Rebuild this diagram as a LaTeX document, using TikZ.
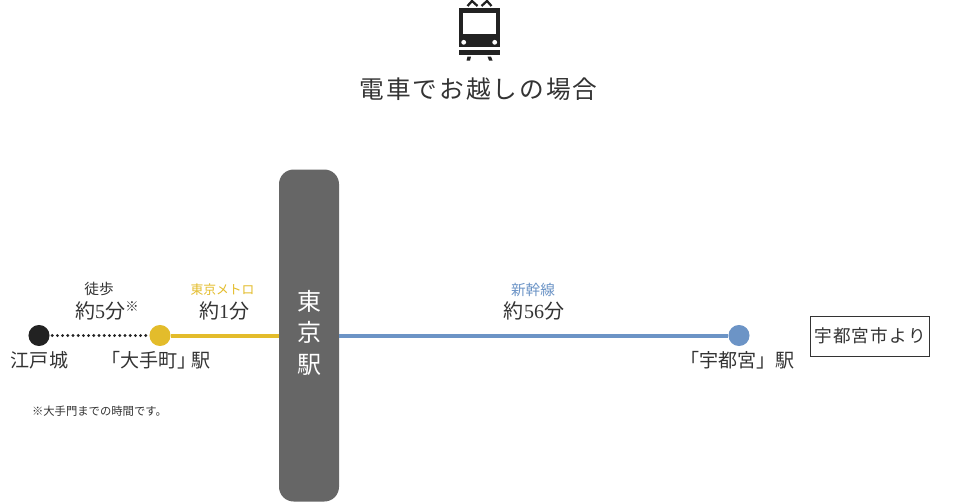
\documentclass[tikz,border=0pt]{standalone}
\usepackage{fontspec}
\setmainfont{Noto Sans CJK JP}
\newfontfamily\numfont{Liberation Serif}
\usetikzlibrary{positioning}
\definecolor{inkgray}{HTML}{333333}
\definecolor{stationgray}{HTML}{666666}
\definecolor{metrogold}{HTML}{E3BC2B}
\definecolor{shinblue}{HTML}{6C94C6}
\definecolor{iconblack}{HTML}{222222}
\newcommand{\spaced}[1]{\addfontfeature{LetterSpace=#1}}

\begin{document}
\begin{tikzpicture}[x=0.75pt, y=-0.75pt, inner sep=0pt, outer sep=0pt]
  \tikzset{every node/.style={text=inkgray},
    stop/.style={circle, minimum size=15.8pt},
    route/.style={line width=3pt},
    big/.style={font=\fontsize{15}{15}\selectfont},
    mid/.style={font=\fontsize{11}{11}\selectfont},
    place/.style={font=\fontsize{14.3}{14.3}\selectfont}}
  \useasboundingbox (0,0) rectangle (960,501);

  % train icon
  \fill[iconblack] (458.5,8) rectangle (500,47);
  \fill[white] (462.5,12.5) rectangle (496,33.5);
  \fill[white] (463.7,42.3) circle (2.4) (494.7,42.3) circle (2.4);
  \fill[iconblack] (459,49.5) rectangle (500,54.5);
  \fill[iconblack] (467.5,56.5) -- (471,56.5) -- (470,60.5) -- (466.5,60.5) -- cycle;
  \fill[iconblack] (487.5,56.5) -- (491,56.5) -- (492.5,60.5) -- (489,60.5) -- cycle;
  \draw[iconblack, line width=1.7pt] (467.5,6) -- (472,1) -- (477.5,6) (481.5,6) -- (487,1) -- (491.5,6);

  \node[font=\fontsize{18.5}{18.5}\selectfont\spaced{8}] (title) at (478.5,89.5) {電車でお越しの場合};

  % station and stops
  \node[fill=stationgray, rounded corners=11pt, minimum width=45pt, minimum height=249pt] (tokyo) at (309,335.5) {};
  \node[text=white, align=center, font=\fontsize{18}{23.6}\selectfont] (tokyolabel) at (309,332.5) {東\\京\\駅};
  \node[stop, fill=iconblack] (edo) at (39,335.5) {};
  \node[stop, fill=metrogold] (ote) at (160,335.5) {};
  \node[stop, fill=shinblue] (utsu) at (739,335.5) {};

  \draw[iconblack, line width=2.4pt, line cap=round, dash pattern=on 0pt off 3.9pt,
        shorten >=2pt, shorten <=2pt] (edo) -- (ote);
  \draw[route, metrogold] (ote) -- (tokyo);
  \draw[route, shinblue] (tokyo) -- (utsu);

  % labels
  \node[mid] (walk) at (99,289) {徒歩};
  \node[big] (walktime) at (100,311) {約{\numfont 5}分};
  \node[font=\fontsize{10}{10}\selectfont] (walkmark) at (132,307) {※};
  \node[font=\fontsize{9.6}{9.6}\selectfont, text=metrogold] (metro) at (222.5,289.5) {東京メトロ};
  \node[big] (metrotime) at (224,311) {約{\numfont 1}分};
  \node[mid, text=shinblue] (shin) at (533,289.5) {新幹線};
  \node[big] (shintime) at (534,311) {約{\numfont\kern.04em 56\kern.04em}分};
  \node[place] (edolabel) at (39.5,360) {江戸城};
  \node[place] (otelabel) at (156,360) {「大手町」\kern-.3em駅};
  \node[place] (utsulabel) at (737.5,360) {「宇都宮」駅};
  \node[font=\fontsize{8.5}{8.5}\selectfont] (note) at (99.5,411.5) {※大手門までの時間です。};
  \node[draw=inkgray, line width=0.75pt, minimum width=89.5pt, minimum height=30pt,
        font=\fontsize{13.2}{13.2}\selectfont\spaced{7}] (from) at (870,336) {宇都宮市より};
\end{tikzpicture}
\end{document}
